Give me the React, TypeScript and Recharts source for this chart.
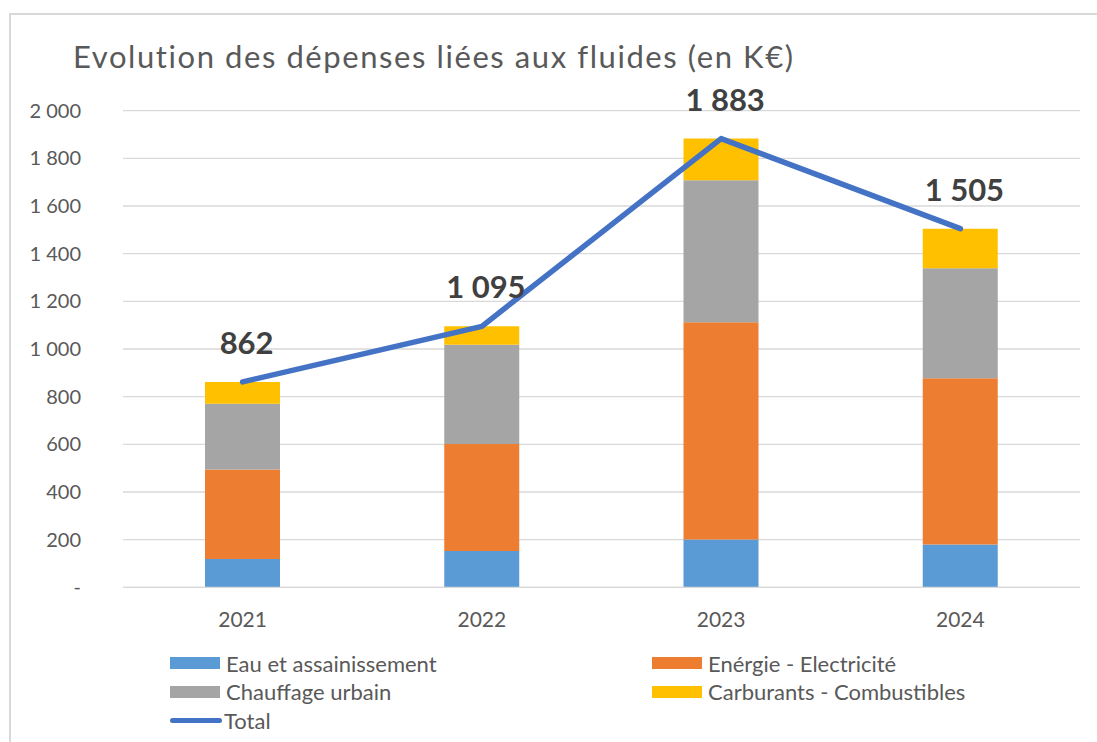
import { ComposedChart, Bar, Line, XAxis, YAxis, CartesianGrid, Legend, LabelList } from 'recharts';

// Values in K€
const YEARS = ['2021', '2022', '2023', '2024'];
const EAU = [119, 152, 201, 180];
const ELECTRICITE = [375, 449, 911, 697];
const CHAUFFAGE = [276, 417, 596, 462];
const CARBURANTS = [92, 77, 175, 166];
const TOTAL = [862, 1095, 1883, 1505];
const Y_TICKS = [0, 200, 400, 600, 800, 1000, 1200, 1400, 1600, 1800, 2000];

// Legend reading order: left column, right column, then Total on its own row
const LEGEND_ORDER = [
  'Eau et assainissement',
  'Enérgie - Electricité',
  'Chauffage urbain',
  'Carburants - Combustibles',
  'Total',
];

const FONT = 'Lato, "Open Sans", sans-serif';
const TEXT = '#595959';

const data = YEARS.map((year, i) => ({
  year,
  eau: EAU[i],
  elec: ELECTRICITE[i],
  chauffage: CHAUFFAGE[i],
  carburants: CARBURANTS[i],
  total: TOTAL[i],
}));

// "1883" -> "1 883", and Excel shows zero as "-"
const fmt = (v: number) => (v === 0 ? '-' : String(v).replace(/\B(?=(\d{3})+(?!\d))/g, ' '));

function TotalLabel(props: any) {
  const { x, y, value } = props;
  return (
    <text x={x + 4} y={y - 28} textAnchor="middle" fontFamily={FONT} fontSize={31} fontWeight={700} fill="#404040">
      {fmt(value)}
    </text>
  );
}

function FluidLegend({ payload }: any) {
  const items = payload || [];
  return (
    <div style={{ position: 'relative', width: 1097, height: 90, fontFamily: FONT, fontSize: 22, color: TEXT }}>
      {LEGEND_ORDER.map((name, i) => {
        const item = items.find((p: any) => p.value === name);
        if (!item) return null;
        const col = i < 4 ? i % 2 : 0;
        const row = Math.floor(i / 2);
        const isLine = item.type === 'line';
        return (
          <div
            key={name}
            style={{
              position: 'absolute',
              left: col === 0 ? 170 : 652,
              top: row * 28.5,
              height: 30,
              display: 'flex',
              alignItems: 'center',
              whiteSpace: 'nowrap',
            }}
          >
            <span
              style={{
                display: 'inline-block',
                width: isLine ? 52 : 50,
                height: isLine ? 5 : 12,
                borderRadius: isLine ? 3 : 0,
                background: item.color,
                marginRight: isLine ? 2 : 6,
              }}
            />
            {name}
          </div>
        );
      })}
    </div>
  );
}

export default function App() {
  return (
    <div style={{ position: 'absolute', left: 0, top: 0, width: 1097, height: 742, background: '#fff', overflow: 'hidden' }}>
      <div
        style={{
          position: 'absolute',
          left: 9,
          top: 13,
          width: 1100,
          height: 740,
          borderTop: '2px solid #d9d9d9',
          borderLeft: '2px solid #d9d9d9',
        }}
      />
      <svg style={{ position: 'absolute', left: 0, top: 0, fontVariantLigatures: 'none' }} width={1097} height={90}>
        <text x={73} y={68} fontFamily={FONT} fontSize={31} fill={TEXT} textLength={720} lengthAdjust="spacing">
          Evolution des dépenses liées aux fluides (en K€)
        </text>
      </svg>
      <div style={{ position: 'absolute', left: 0, top: 0 }}>
        <ComposedChart
          width={1097}
          height={742}
          data={data}
          margin={{ top: 110.7, right: 17, left: 23, bottom: 124.7 }}
        >
          <CartesianGrid stroke="#d9d9d9" strokeWidth={1.3} vertical={false} />
          <XAxis
            dataKey="year"
            height={30}
            axisLine={{ stroke: '#d9d9d9', strokeWidth: 1.3 }}
            tickLine={false}
            tickSize={0}
            tickMargin={25}
            tick={{ fill: TEXT, fontSize: 21, fontFamily: FONT }}
          />
          <YAxis
            width={100}
            domain={[0, 2000]}
            ticks={Y_TICKS}
            interval={0}
            axisLine={false}
            tickLine={false}
            tickSize={0}
            tickMargin={42}
            tickFormatter={fmt}
            tick={{ fill: TEXT, fontSize: 20, fontFamily: FONT }}
          />
          <Legend
            layout="horizontal"
            verticalAlign="middle"
            align="center"
            wrapperStyle={{ position: 'absolute', left: 0, top: 648, width: 1097, height: 90 }}
            content={<FluidLegend />}
          />
          <Bar dataKey="eau" name="Eau et assainissement" stackId="a" fill="#5B9BD5" barSize={75} isAnimationActive={false} />
          <Bar dataKey="elec" name="Enérgie - Electricité" stackId="a" fill="#ED7D31" barSize={75} isAnimationActive={false} />
          <Bar dataKey="chauffage" name="Chauffage urbain" stackId="a" fill="#A5A5A5" barSize={75} isAnimationActive={false} />
          <Bar dataKey="carburants" name="Carburants - Combustibles" stackId="a" fill="#FFC000" barSize={75} isAnimationActive={false} />
          <Line
            dataKey="total"
            name="Total"
            type="linear"
            stroke="#4472C4"
            strokeWidth={5.5}
            strokeLinecap="round"
            strokeLinejoin="round"
            dot={false}
            activeDot={false}
            legendType="line"
            isAnimationActive={false}
          >
            <LabelList dataKey="total" content={<TotalLabel />} />
          </Line>
        </ComposedChart>
      </div>
    </div>
  );
}
